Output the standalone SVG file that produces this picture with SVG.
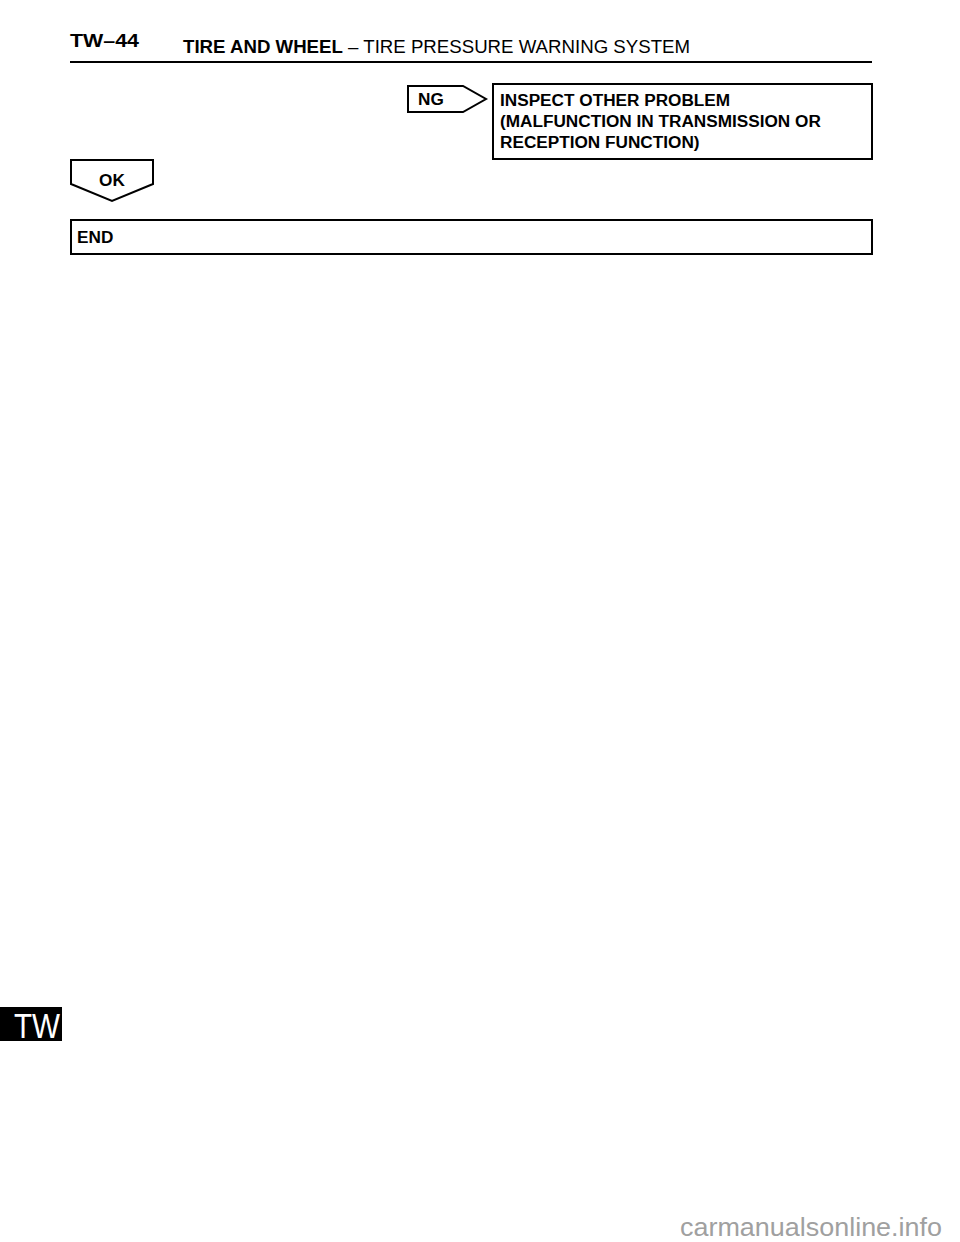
<svg xmlns="http://www.w3.org/2000/svg" width="960" height="1242" viewBox="0 0 960 1242">
<style>
.b{font-family:"Liberation Sans",Arial,sans-serif;font-weight:bold;font-size:17.2px;fill:#000}
.box{fill:#fff;stroke:#000;stroke-width:2}
</style>
<rect width="960" height="1242" fill="#fff"/>
<g id="header">
<text x="70" y="47" font-family="'Liberation Sans',Arial,sans-serif" font-weight="bold" font-size="19" textLength="69" lengthAdjust="spacingAndGlyphs">TW–44</text>
<text x="183" y="53" font-family="'Liberation Sans',Arial,sans-serif" font-size="18" textLength="507" lengthAdjust="spacingAndGlyphs"><tspan font-weight="bold">TIRE AND WHEEL</tspan>  –  TIRE PRESSURE WARNING SYSTEM</text>
<line x1="70" y1="62" x2="872" y2="62" stroke="#000" stroke-width="2"/>
</g>
<g id="connectors">
<g id="ng"><polygon class="box" points="408,86 463,86 486,99 463,112 408,112"/><text class="b" x="418" y="105">NG</text></g>
<g id="ok"><polygon class="box" points="71,160 153,160 153,184 112,201 71,184"/><text class="b" x="112" y="186" text-anchor="middle">OK</text></g>
</g>
<g id="inspect">
<rect class="box" x="493" y="84" width="379" height="75"/>
<text class="b" x="500" y="106">INSPECT OTHER PROBLEM</text>
<text class="b" x="500" y="127">(MALFUNCTION IN TRANSMISSION OR</text>
<text class="b" x="500" y="148">RECEPTION FUNCTION)</text>
</g>
<g id="end">
<rect class="box" x="71" y="220" width="801" height="34"/>
<text class="b" x="77" y="243">END</text>
</g>
<g id="tab">
<rect x="0" y="1007" width="62" height="34" fill="#000"/>
<text x="14" y="1038" font-family="'Liberation Sans',Arial,sans-serif" font-size="35" fill="#fff" textLength="46" lengthAdjust="spacingAndGlyphs">TW</text>
</g>
<text x="680" y="1236" font-family="'Liberation Sans',Arial,sans-serif" font-size="26" fill="#a0a0a0" textLength="262" lengthAdjust="spacingAndGlyphs">carmanualsonline.info</text>
</svg>
